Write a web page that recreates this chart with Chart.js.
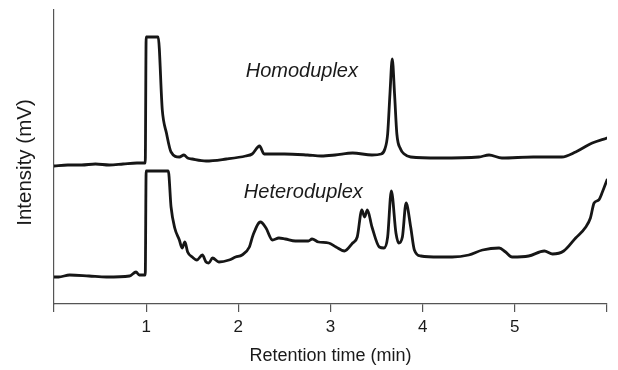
<!DOCTYPE html>
<html>
<head>
<meta charset="utf-8">
<script src="https://cdn.jsdelivr.net/npm/chart.js@4/dist/chart.umd.min.js"></script>
<style>
html,body{margin:0;padding:0;background:#fff;}
#c{display:block;}
</style>
</head>
<body>
<canvas id="c" width="618" height="370"></canvas>
<script>
// Retention time (min) and intensity (arbitrary mV units)
const homoTime = [0.00,0.15,0.30,0.45,0.60,0.75,0.90,0.99,1.00,1.12,1.13,1.175,1.22,1.27,1.36,1.41,1.45,1.50,1.65,1.87,2.08,2.15,2.23,2.28,2.50,2.75,2.90,3.05,3.24,3.45,3.55,3.59,3.62,3.645,3.67,3.695,3.72,3.76,3.80,3.87,4.18,4.61,4.72,4.86,5.20,5.51,5.66,5.84,6.00];
const homoIntensity = [138,139,139,140,139,140,141,141,267,267,267,194,171,152,147,149,146,145,143,145,148,150,158,150,150,149,148,149,151,149,150,155,170,210,245,210,170,155,150,147,146,147,149,146,147,147,152,161,166];

const heteroTime = [0.00,0.05,0.17,0.38,0.57,0.82,0.89,0.925,0.99,1.00,1.24,1.27,1.31,1.36,1.39,1.42,1.45,1.50,1.55,1.61,1.65,1.68,1.72,1.79,1.90,1.97,2.04,2.12,2.16,2.24,2.30,2.37,2.44,2.51,2.62,2.76,2.80,2.87,2.98,3.06,3.15,3.24,3.29,3.34,3.37,3.40,3.45,3.53,3.58,3.62,3.66,3.71,3.74,3.78,3.82,3.87,3.91,3.98,4.18,4.32,4.50,4.65,4.83,4.90,4.97,5.15,5.32,5.41,5.53,5.66,5.77,5.82,5.86,5.91,5.95,6.00];
const heteroIntensity = [27,27,29,28,27,28,32,29,29,133,133,97,76,64,56,62,52,47,44,49,42,41,46,42,44,47,49,57,69,82,76,64,66,65,63,63,65,62,61,57,53,61,67,94,87,94,77,57,56,67,113,71,61,67,101,77,54,48,47,47,49,54,56,52,47,48,53,50,53,66,77,86,101,104,112,124];

const xTicks = [0,1,2,3,4,5,6];
const xTickLabels = ['','1','2','3','4','5',''];

const traceLabels = ['Homoduplex','Heteroduplex'];
const labelTime = [2.08,2.06];
const labelIntensity = [227,106];
const yTitle = 'Intensity (mV)';

const toPts = (t, v) => t.map((x, i) => ({x: x, y: v[i]}));

const textPlugin = {
  id: 'traceText',
  afterDatasetsDraw(chart) {
    const {ctx, scales: {x, y}} = chart;
    ctx.save();
    ctx.fillStyle = '#1a1a1a';
    ctx.font = 'italic 20px "Liberation Sans", Arial, sans-serif';
    ctx.textBaseline = 'alphabetic';
    ctx.textAlign = 'left';
    traceLabels.forEach((s, i) => {
      ctx.fillText(s, x.getPixelForValue(labelTime[i]), y.getPixelForValue(labelIntensity[i]));
    });
    // y-axis title
    ctx.font = '20.5px "Liberation Sans", Arial, sans-serif';
    ctx.translate(25, 162.5);
    ctx.rotate(-Math.PI / 2);
    ctx.textAlign = 'center';
    ctx.textBaseline = 'middle';
    ctx.fillText(yTitle, 0, 0);
    ctx.restore();
  }
};

const lineStyle = {
  borderColor: '#161616',
  borderWidth: 2.8,
  pointRadius: 0,
  cubicInterpolationMode: 'monotone',
  fill: false,
  borderJoinStyle: 'round',
  borderCapStyle: 'round'
};

new Chart(document.getElementById('c'), {
  type: 'line',
  data: {
    datasets: [
      Object.assign({label: traceLabels[0], data: toPts(homoTime, homoIntensity)}, lineStyle),
      Object.assign({label: traceLabels[1], data: toPts(heteroTime, heteroIntensity)}, lineStyle)
    ]
  },
  options: {
    responsive: false,
    animation: false,
    devicePixelRatio: 1,
    layout: {padding: {top: 10, right: 11, left: 0, bottom: 0}},
    plugins: {legend: {display: false}, tooltip: {enabled: false}},
    scales: {
      x: {
        type: 'linear',
        min: 0, max: 6,
        afterBuildTicks(scale) { scale.ticks = xTicks.map(v => ({value: v})); },
        afterFit(scale) { scale.height = 66; },
        ticks: {
          callback: (v) => xTickLabels[xTicks.indexOf(v)],
          color: '#1a1a1a',
          font: {family: '"Liberation Sans", Arial, sans-serif', size: 17},
          padding: 5,
          maxRotation: 0,
          autoSkip: false
        },
        grid: {drawOnChartArea: false, drawTicks: true, tickLength: 8, color: '#555', lineWidth: 1.2},
        border: {display: true, color: '#555', width: 1.2},
        title: {
          display: true,
          text: 'Retention time (min)',
          color: '#1a1a1a',
          font: {family: '"Liberation Sans", Arial, sans-serif', size: 18},
          padding: {top: 0, bottom: 3}
        }
      },
      y: {
        type: 'linear',
        min: 0, max: 294,
        afterFit(scale) { scale.width = 54; },
        ticks: {display: false},
        grid: {display: false, drawTicks: false},
        border: {display: true, color: '#555', width: 1.2},
        title: {display: false}
      }
    }
  },
  plugins: [textPlugin]
});
</script>
</body>
</html>
